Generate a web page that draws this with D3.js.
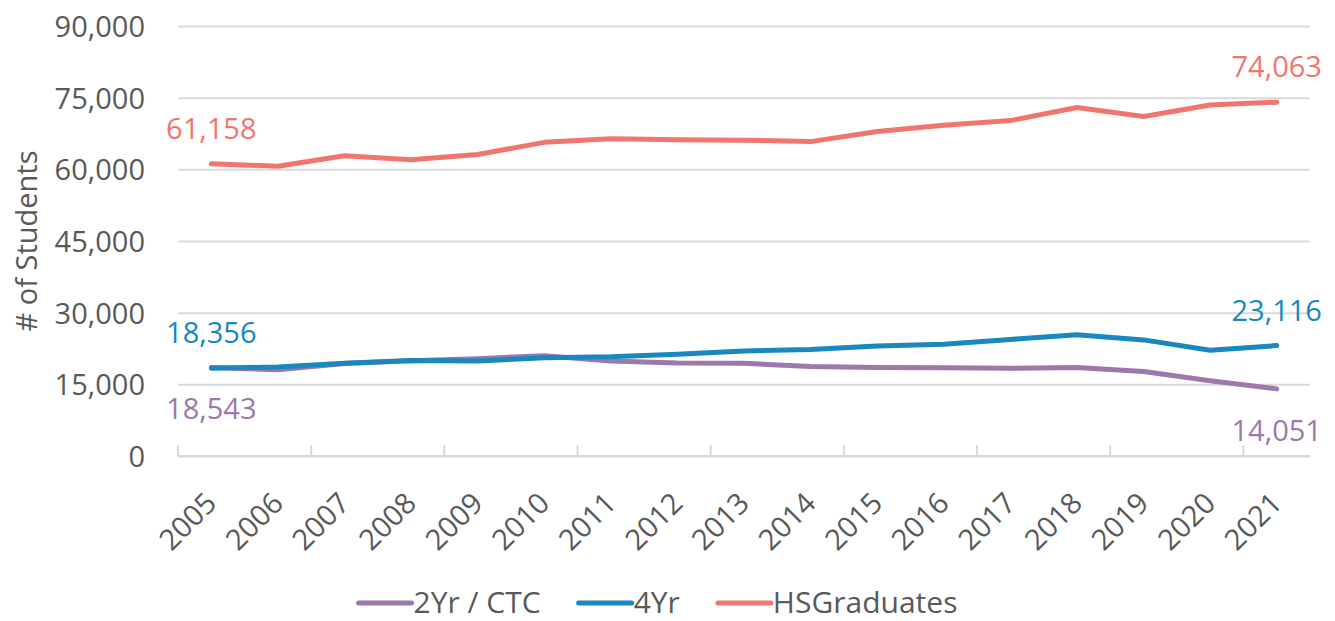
<!DOCTYPE html>
<html>
<head>
<meta charset="utf-8">
<script src="https://cdn.jsdelivr.net/npm/d3@7"></script>
<style>
  html, body { margin: 0; padding: 0; background: #fff; }
  text { font-family: "Open Sans", sans-serif; }
</style>
</head>
<body>
<div class="chart"></div>
<script>
// enrollment lines, 2005-2021

var years = ["2005", "2006", "2007", "2008", "2009", "2010", "2011", "2012", "2013",
             "2014", "2015", "2016", "2017", "2018", "2019", "2020", "2021"];

var twoYr = [18543, 18050, 19350, 19950, 20350, 21000, 19900, 19450, 19400,
             18750, 18500, 18450, 18350, 18500, 17700, 15750, 14051];

var fourYr = [18356, 18650, 19400, 20000, 19900, 20550, 20750, 21300, 22000,
              22300, 23000, 23400, 24400, 25400, 24300, 22150, 23116];

var hsGrads = [61158, 60650, 62850, 62000, 63100, 65650, 66400, 66200, 66100,
               65800, 67900, 69250, 70200, 72950, 71050, 73450, 74063];

var yTicks = [0, 15000, 30000, 45000, 60000, 75000, 90000];

var series = [
  { id: "2Yr / CTC", values: twoYr, color: "#9C78AD", below: true },
  { id: "4Yr", values: fourYr, color: "#1888BE", below: false },
  { id: "HSGraduates", values: hsGrads, color: "#F0766D", below: false }
];

// ---------------------------------------------------------------
var width = 1335,
    height = 621,
    plotLeft = 178,
    plotRight = 1310,
    plotTop = 26,
    plotBottom = 456,
    textColor = "#595959",
    gridColor = "#D9D9D9",
    fontSize = 29;

var svg = d3.select(".chart").append("svg")
    .attr("width", width)
    .attr("height", height);

var xScale = d3.scaleBand().domain(years).range([plotLeft, plotRight]).padding(0);
var yScale = d3.scaleLinear().domain([0, 90000]).range([plotBottom, plotTop]);

var cx = function(year) { return xScale(year) + xScale.bandwidth() / 2; };

// gridlines + y labels
var yaxis = d3.axisLeft(yScale)
    .tickValues(yTicks)
    .tickSize(-(plotRight - plotLeft))
    .tickPadding(33)
    .tickFormat(d3.format(","));

var gy = svg.append("g")
    .attr("transform", "translate(" + plotLeft + ",0)")
    .call(yaxis);

gy.select(".domain").remove();
gy.selectAll(".tick line")
    .attr("stroke", gridColor)
    .attr("stroke-width", 2);
gy.selectAll(".tick text")
    .attr("fill", textColor)
    .attr("dy", "0.36em")
    .style("font-size", fontSize + "px");

// x axis: line + ticks every 2 categories (inside)
svg.append("line")
    .attr("x1", plotLeft).attr("x2", plotRight)
    .attr("y1", plotBottom).attr("y2", plotBottom)
    .attr("stroke", gridColor)
    .attr("stroke-width", 2);

svg.selectAll(".xtick")
    .data(years.filter(function(d, i) { return i % 2 == 0; }))
    .enter()
    .append("line")
    .attr("class", "xtick")
    .attr("x1", function(d) { return xScale(d); })
    .attr("x2", function(d) { return xScale(d); })
    .attr("y1", plotBottom - 11)
    .attr("y2", plotBottom)
    .attr("stroke", gridColor)
    .attr("stroke-width", 2);

svg.selectAll(".xlabel")
    .data(years)
    .enter()
    .append("text")
    .attr("class", "xlabel")
    .attr("transform", function(d) {
      return "translate(" + (cx(d) + 7) + "," + (plotBottom + 49) + ") rotate(-45)";
    })
    .attr("text-anchor", "end")
    .attr("fill", textColor)
    .style("font-size", fontSize + "px")
    .text(function(d) { return d; });

// y title
svg.append("text")
    .attr("transform", "translate(37,241) rotate(-90)")
    .attr("text-anchor", "middle")
    .attr("fill", textColor)
    .style("font-size", fontSize + "px")
    .text("# of Students");

// lines
var line = d3.line()
    .x(function(d, i) { return cx(years[i]); })
    .y(function(d) { return yScale(d); });

svg.selectAll(".series")
    .data(series)
    .enter()
    .append("path")
    .attr("class", "series")
    .attr("d", function(d) { return line(d.values); })
    .attr("fill", "none")
    .attr("stroke", function(d) { return d.color; })
    .attr("stroke-width", 5)
    .attr("stroke-linecap", "round")
    .attr("stroke-linejoin", "round");

// first / last value labels
var labels = [];
series.forEach(function(s) {
  [0, years.length - 1].forEach(function(i) {
    labels.push({ year: years[i], value: s.values[i], color: s.color, below: s.below });
  });
});

svg.selectAll(".vlabel")
    .data(labels)
    .enter()
    .append("text")
    .attr("class", "vlabel")
    .attr("x", function(d) { return cx(d.year); })
    .attr("y", function(d) { return yScale(d.value) + (d.below ? 52 : -25); })
    .attr("text-anchor", "middle")
    .attr("fill", function(d) { return d.color; })
    .style("font-size", fontSize + "px")
    .text(function(d) { return d3.format(",")(d.value); });

// legend
var legend = svg.append("g");
var lx = 0;
series.forEach(function(s) {
  var g = legend.append("g").attr("transform", "translate(" + lx + ",0)");
  g.append("line")
    .attr("x1", 2).attr("x2", 55)
    .attr("y1", 0).attr("y2", 0)
    .attr("stroke", s.color)
    .attr("stroke-width", 5)
    .attr("stroke-linecap", "round");
  var t = g.append("text")
    .attr("x", 57)
    .attr("y", 10)
    .attr("fill", textColor)
    .style("font-size", (fontSize + 1) + "px")
    .text(s.id);
  lx += 57 + t.node().getComputedTextLength() + 36;
});
lx -= 36;
legend.attr("transform", "translate(" + (657 - lx / 2) + ",603)");
</script>
</body>
</html>
